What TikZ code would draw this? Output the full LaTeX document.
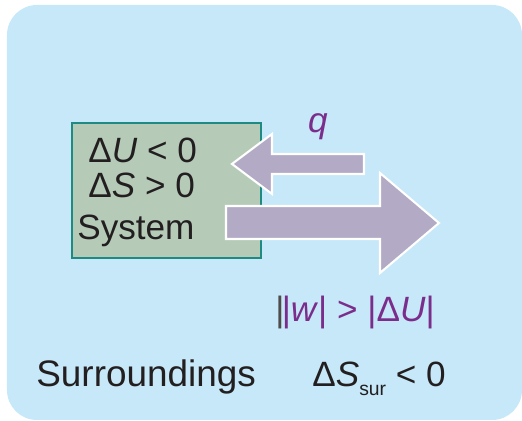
\documentclass[tikz,border=0pt]{standalone}
\usepackage{fontspec}
\setmainfont{Liberation Sans}
\usetikzlibrary{positioning}

\definecolor{surbg}{HTML}{C6E8F8}
\definecolor{sysfill}{HTML}{B5CBB8}
\definecolor{sysline}{HTML}{1E8B82}
\definecolor{flowfill}{HTML}{B3ABC6}
\definecolor{labpurple}{HTML}{7B2D8B}
\definecolor{txt}{HTML}{231F20}

\begin{document}
\begin{tikzpicture}[x=0.02cm, y=-0.02cm,
    lab/.style={font=\fontsize{20}{22}\selectfont, text=txt, inner sep=0pt, anchor=base west},
    flow/.style={fill=flowfill, draw=white, line width=1.2pt, line join=miter}]
    \useasboundingbox (0,0) rectangle (522,421);

    % surroundings
    \fill[surbg, rounded corners=0.6cm] (7,5) rectangle (522,420);

    % system
    \node[draw=sysline, fill=sysfill, line width=0.9pt, minimum width=189*0.02cm,
          minimum height=135*0.02cm, inner sep=0pt] (sys) at (166.5,190.5) {};
    \node[lab] (dU) at (88,163) {Δ\textit{U} < 0};
    \node[lab] (dS) at (88,198) {Δ\textit{S} > 0};
    \node[lab] (sysname) at (77,240) {System};

    % heat flow into the system
    \draw[flow] (232,164) -- (272,134) -- (272,154) -- (364,154) -- (364,174)
        -- (272,174) -- (272,194) -- cycle;
    \node[lab, text=labpurple, anchor=center] (q) at (318,127) {\textit{q}};

    % work done on the surroundings
    \draw[flow] (226,206) -- (380,206) -- (380,173) -- (439,223) -- (380,273)
        -- (380,239) -- (226,239) -- cycle;
    \node[lab, text=labpurple] (w) at (275,322)
        {\textcolor{txt!80}{|}\kern-1.5pt|\textit{w}| > |Δ\textit{U}|};

    % surroundings labels
    \node[lab, font=\fontsize{21}{23}\selectfont] (sur) at (36,387) {Surroundings};
    \node[lab] (dSsur) at (312,387)
        {Δ\textit{S}\raisebox{-5pt}{\fontsize{11}{12}\selectfont sur} < 0};
\end{tikzpicture}
\end{document}
